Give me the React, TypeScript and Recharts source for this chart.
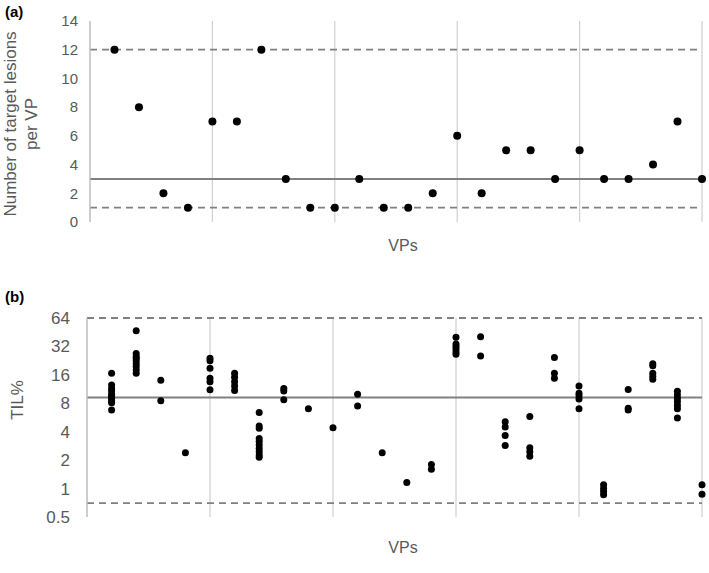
import { ScatterChart, Scatter, XAxis, YAxis, ReferenceLine } from "recharts";

// (a) number of target lesions per VP
const lesionsPerVP = [12, 8, 2, 1, 7, 7, 12, 3, 1, 1, 3, 1, 1, 2, 6, 2, 5, 5, 3, 5, 3, 3, 4, 7, 3];
const lesionTicks = [0, 2, 4, 6, 8, 10, 12, 14];
const lesionMedian = 3;
const lesionRange = [1, 12];

// (b) TIL% per lesion, one list per VP
const tilByVP = [
  [16.6, 12.5, 11.5, 10.8, 10, 9.5, 9, 8.5, 8.1, 6.8],
  [47, 27, 25, 24, 22.6, 21, 19.6, 18, 16.6],
  [14, 8.5],
  [2.4],
  [24, 22.5, 18.8, 14.7, 13.5, 11.1],
  [16.6, 15.1, 13.5, 12.2, 10.9],
  [6.4, 4.6, 4.35, 3.4, 3.15, 2.9, 2.65, 2.45, 2.27, 2.15],
  [11.5, 10.8, 8.7],
  [7],
  [4.4],
  [10, 7.5],
  [2.4],
  [1.16],
  [1.8, 1.6],
  [40, 34, 32, 30, 28, 26.5],
  [40.6, 25.3],
  [5.1, 4.5, 3.65, 2.85],
  [5.8, 2.7, 2.45, 2.2],
  [24.5, 16.6, 14.7],
  [12.2, 10.2, 9.6, 8.9, 7],
  [1.1, 1.0, 0.93, 0.86],
  [11.2, 7.1, 6.8],
  [21, 20, 16.6, 15.5, 14.4],
  [10.7, 9.8, 9, 8.3, 7.6, 7, 5.6],
  [1.1, 0.87],
];
const tilTicks = [0.5, 1, 2, 4, 8, 16, 32, 64];
const tilMedian = 9.2;
const tilRange = [0.7, 64];

const vpGrid = [5, 10, 15, 20, 25];

const FONT = "'Liberation Sans', Arial, sans-serif";
const TEXT = "#595959";
const GRID = "#d0d0d0";
const REF = "#808080";

const lesionData = lesionsPerVP.map((n, i) => ({ vp: i + 1, n }));
const tilData = tilByVP.flatMap((vals, i) => vals.map((til) => ({ vp: i + 1, til })));

const dot = (r: number) => (props: any) => <circle cx={props.cx} cy={props.cy} r={r} fill="#000" />;

export default function App() {
  return (
    <div style={{ position: "absolute", left: 0, top: 0, width: 709, height: 573, background: "#fff", fontFamily: FONT }}>
      {/* panel a */}
      <div style={{ position: "absolute", left: 0, top: 0 }}>
        <ScatterChart width={709} height={240} margin={{ top: 21, right: 7, bottom: 18, left: 0 }}>
          <XAxis type="number" dataKey="vp" domain={[0, 25]} hide />
          <YAxis
            type="number"
            dataKey="n"
            domain={[0, 14]}
            ticks={lesionTicks}
            width={90}
            tickLine={false}
            tickSize={0}
            tickMargin={12}
            axisLine={{ stroke: "#bdbdbd", strokeWidth: 1.5 }}
            tick={{ fill: TEXT, fontSize: 15, fontFamily: FONT }}
            interval={0}
          />
          {vpGrid.map((x) => (
            <ReferenceLine key={x} x={x} stroke={GRID} strokeWidth={1.2} />
          ))}
          {lesionRange.map((y) => (
            <ReferenceLine key={y} y={y} stroke={REF} strokeWidth={1.8} strokeDasharray="7 5" />
          ))}
          <ReferenceLine y={lesionMedian} stroke={REF} strokeWidth={2} />
          <Scatter data={lesionData} shape={dot(4)} isAnimationActive={false} />
        </ScatterChart>
      </div>

      {/* panel b */}
      <div style={{ position: "absolute", left: 0, top: 270 }}>
        <ScatterChart width={709} height={270} margin={{ top: 48, right: 7, bottom: 23, left: 0 }}>
          <XAxis type="number" dataKey="vp" domain={[0, 25]} hide />
          <YAxis
            type="number"
            dataKey="til"
            scale="log"
            domain={[0.5, 64]}
            allowDataOverflow
            ticks={tilTicks}
            width={87}
            tickLine={false}
            tickSize={0}
            tickMargin={17}
            axisLine={{ stroke: "#bdbdbd", strokeWidth: 1.5 }}
            tick={{ fill: TEXT, fontSize: 17, fontFamily: FONT }}
            tickFormatter={(v: number) => String(v)}
            interval={0}
          />
          {vpGrid.map((x) => (
            <ReferenceLine key={x} x={x} stroke={GRID} strokeWidth={1.2} />
          ))}
          {tilRange.map((y) => (
            <ReferenceLine key={y} y={y} stroke={REF} strokeWidth={1.8} strokeDasharray="7 5" />
          ))}
          <ReferenceLine y={tilMedian} stroke={REF} strokeWidth={2} />
          <Scatter data={tilData} shape={dot(3.5)} isAnimationActive={false} />
        </ScatterChart>
      </div>

      {/* titles */}
      <svg width={709} height={573} style={{ position: "absolute", left: 0, top: 0, pointerEvents: "none" }} fontFamily={FONT}>
        <text x={5} y={17} fontSize={15} fontWeight="bold" fill="#000">(a)</text>
        <text x={5} y={302} fontSize={15} fontWeight="bold" fill="#000">(b)</text>
        <text x={16} y={124} fontSize={17} fill={TEXT} textAnchor="middle" transform="rotate(-90 16 124)">Number of target lesions</text>
        <text x={37} y={124} fontSize={17} fill={TEXT} textAnchor="middle" transform="rotate(-90 37 124)">per VP</text>
        <text x={23} y={400} fontSize={17} fill={TEXT} textAnchor="middle" transform="rotate(-90 23 400)">TIL%</text>
        <text x={403} y={251} fontSize={16} fill={TEXT} textAnchor="middle">VPs</text>
        <text x={403} y={553} fontSize={16} fill={TEXT} textAnchor="middle">VPs</text>
      </svg>
    </div>
  );
}
